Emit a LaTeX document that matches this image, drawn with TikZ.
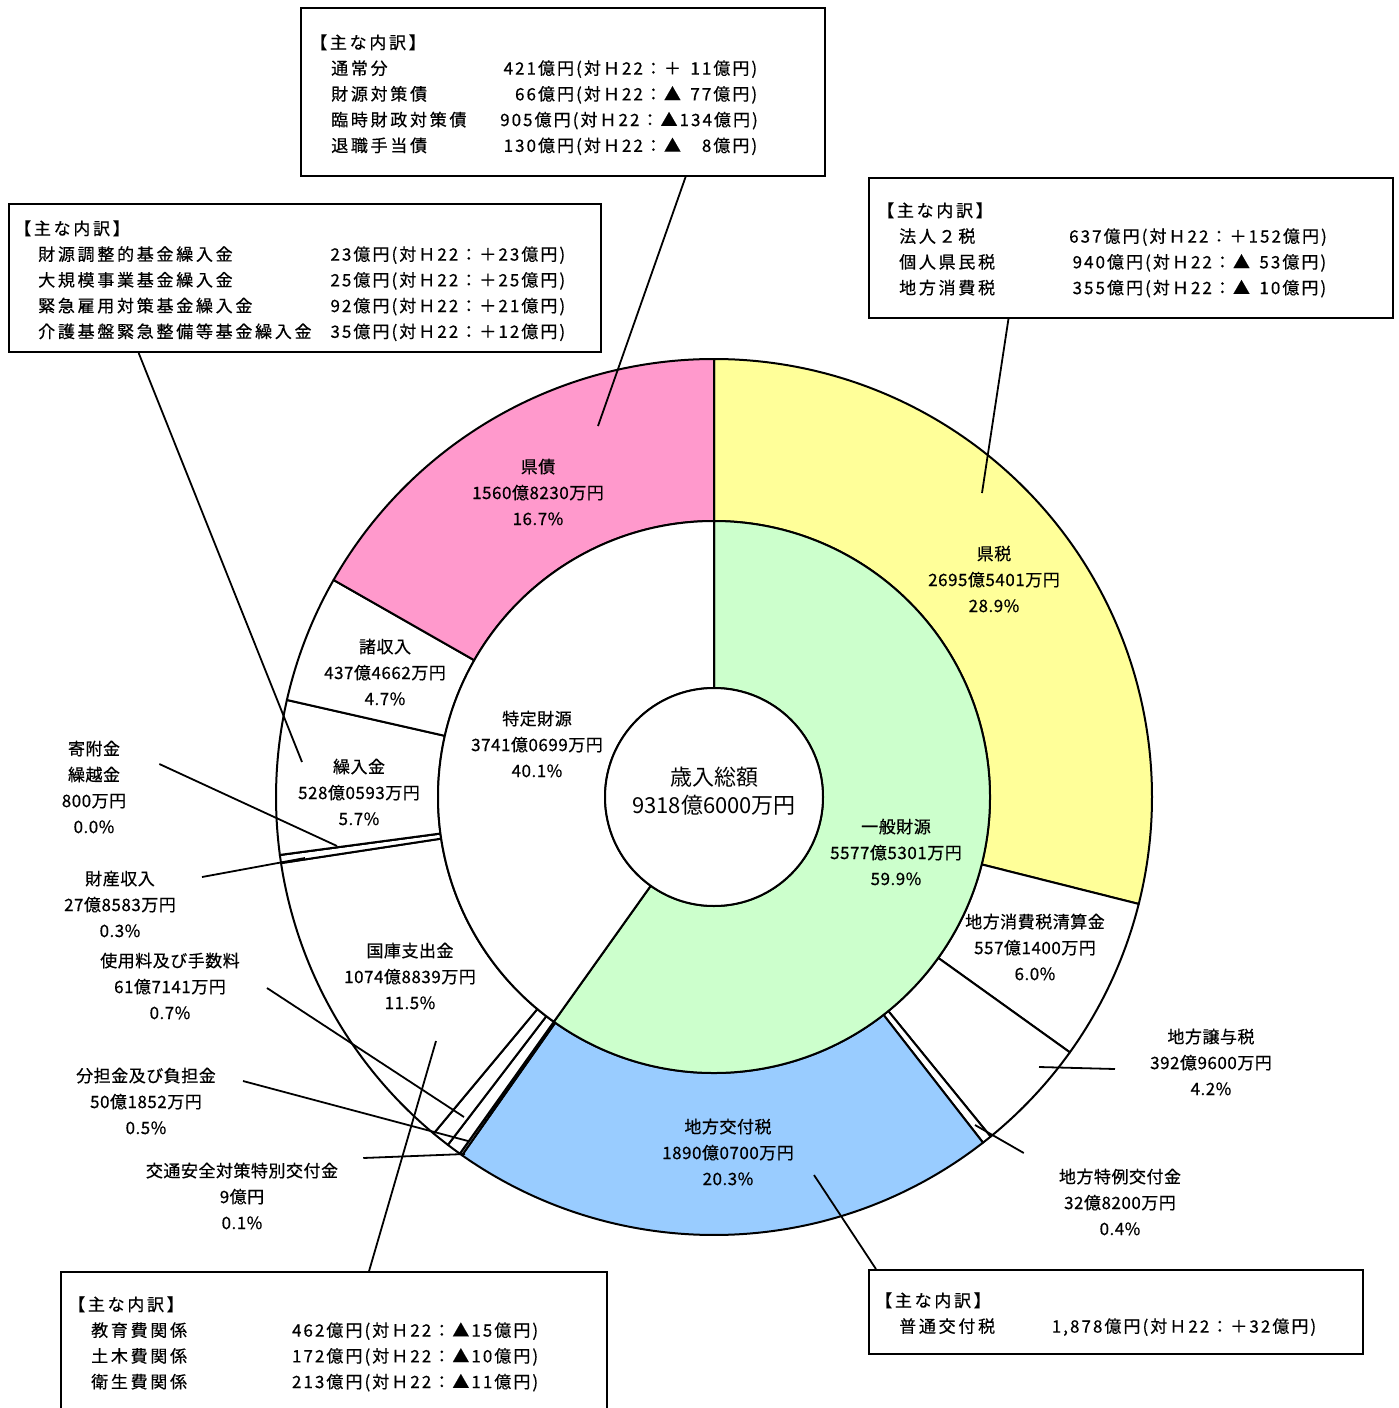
\documentclass[tikz,border=0pt]{standalone}
\usepackage{fontspec}
\setmainfont{Noto Sans CJK JP}
\newfontfamily\labelfont[LetterSpace=3, FakeBold=0.5]{Noto Sans CJK JP}
\newfontfamily\boxfont[LetterSpace=16, FakeBold=0.5]{Noto Sans CJK JP}
\newfontfamily\valuefont[LetterSpace=12, FakeBold=0.5]{Noto Sans CJK JP}
\usepackage{array}
\usepackage{xcolor}
\usetikzlibrary{calc}

\definecolor{zeiyellow}{RGB}{255,255,153}
\definecolor{saipink}{RGB}{255,153,204}
\definecolor{kofublue}{RGB}{153,204,255}
\definecolor{ippangreen}{RGB}{204,255,204}

% ring piece: colour, inner radius, outer radius, start angle, end angle
\newcommand{\ringslice}[5]{\filldraw[slice, fill=#1] (#4:#2) arc[start angle=#4, end angle=#5, radius=#2]
  -- (#5:#3) arc[start angle=#5, end angle=#4, radius=#3] -- cycle;}

\begin{document}
\begin{tikzpicture}[x=1pt, y=-1pt]
        % Styles
        \tikzstyle{slice} = [draw=black, line width=2pt, line join=round]
        \tikzstyle{piece} = [font=\labelfont\fontsize{17}{26}\selectfont, align=center, inner sep=0pt]
        \tikzstyle{infobox} = [draw=black, line width=2pt, fill=white, anchor=north west, inner sep=0pt]
        \tikzstyle{boxtext} = [anchor=north west, inner sep=0pt, font=\fontsize{17}{25.75}\selectfont]
        \tikzstyle{leader} = [line width=1.8pt]

        \useasboundingbox[fill=white] (0,0) rectangle (1398,1408);

        % Slices
        \begin{scope}[shift={(714,797)}]
        \ringslice{zeiyellow}{276}{438}{-90}{14.135}
        \ringslice{white}{276}{438}{14.135}{35.659}
        \ringslice{white}{276}{438}{35.659}{50.840}
        \ringslice{white}{276}{438}{50.840}{52.108}
        \ringslice{kofublue}{276}{438}{52.108}{125.126}
        \ringslice{white}{276}{438}{125.126}{125.474}
        \ringslice{white}{276}{438}{125.474}{127.413}
        \ringslice{white}{276}{438}{127.413}{129.797}
        \ringslice{white}{276}{438}{129.797}{171.322}
        \ringslice{white}{276}{438}{171.322}{172.398}
        \ringslice{white}{276}{438}{172.398}{172.401}
        \ringslice{white}{276}{438}{172.401}{192.802}
        \ringslice{white}{276}{438}{192.802}{209.702}
        \ringslice{saipink}{276}{438}{209.702}{270}
        \ringslice{ippangreen}{109}{276}{-90}{125.474}
        \ringslice{white}{109}{276}{125.474}{270}
        \end{scope}

        % Nodes
        \node (total) [circle, draw, line width=2pt, fill=white, minimum size=218pt, inner sep=0pt] at (714,797) {};
        \node (totaltext) [font=\fontsize{22}{28}\selectfont, align=center] at ([yshift=6pt]total.center)
        {歳入総額\\9318億6000万円};

        \node (kenzei) [piece] at (994,579) {県税\\2695億5401万円\\28.9\%};
        \node (seisan) [piece] at (1035,947) {地方消費税清算金\\557億1400万円\\6.0\%};
        \node (joyo) [piece] at (1211,1062) {地方譲与税\\392億9600万円\\4.2\%};
        \node (tokurei) [piece] at (1120,1202) {地方特例交付金\\32億8200万円\\0.4\%};
        \node (kofu) [piece] at (728,1152) {地方交付税\\1890億0700万円\\20.3\%};
        \node (kotsu) [piece] at (242,1196) {交通安全対策特別交付金\\9億円\\0.1\%};
        \node (buntan) [piece] at (146,1101) {分担金及び負担金\\50億1852万円\\0.5\%};
        \node (shiyo) [piece] at (170,986) {使用料及び手数料\\61億7141万円\\0.7\%};
        \node (kokko) [piece] at (410,976) {国庫支出金\\1074億8839万円\\11.5\%};
        \node (zaisan) [piece] at (120,904) {財産収入\\27億8583万円\\0.3\%};
        \node (kifu) [piece] at (94,787) {寄附金\\繰越金\\800万円\\0.0\%};
        \node (kuriire) [piece] at (359,792) {繰入金\\528億0593万円\\5.7\%};
        \node (shoshu) [piece] at (385,672) {諸収入\\437億4662万円\\4.7\%};
        \node (kensai) [piece] at (538,492) {県債\\1560億8230万円\\16.7\%};
        \node (tokutei) [piece] at (537,744) {特定財源\\3741億0699万円\\40.1\%};
        \node (ippan) [piece] at (896,852) {一般財源\\5577億5301万円\\59.9\%};

        % Boxes
        \node (kensaibox) [infobox, minimum width=524pt, minimum height=168pt] at (300,7) {};
        \node (kensaitext) [boxtext] at ([shift={(10,23.6)}]kensaibox.north west)
        {\begin{tabular}{@{}>{\boxfont\hspace*{21pt}}p{190pt}@{}>{\valuefont\raggedleft\arraybackslash}p{257pt}@{}}
        \multicolumn{2}{@{}l@{}}{\boxfont 【主な内訳】}\\
        通常分 & 421億円(対Ｈ22：＋\hphantom{0}11億円)\\
        財源対策債 & 66億円(対Ｈ22：▲\hphantom{0}77億円)\\
        臨時財政対策債 & 905億円(対Ｈ22：▲134億円)\\
        退職手当債 & 130億円(対Ｈ22：▲\hphantom{00}8億円)
        \end{tabular}};
        \node (kuriirebox) [infobox, minimum width=592pt, minimum height=148pt] at (8,203) {};
        \node (kuriiretext) [boxtext] at ([shift={(6,13.6)}]kuriirebox.north west)
        {\begin{tabular}{@{}>{\boxfont\hspace*{24pt}}p{316pt}@{}>{\valuefont\raggedleft\arraybackslash}p{235pt}@{}}
        \multicolumn{2}{@{}l@{}}{\boxfont 【主な内訳】}\\
        財源調整的基金繰入金 & 23億円(対Ｈ22：＋23億円)\\
        大規模事業基金繰入金 & 25億円(対Ｈ22：＋25億円)\\
        緊急雇用対策基金繰入金 & 92億円(対Ｈ22：＋21億円)\\
        介護基盤緊急整備等基金繰入金 & 35億円(対Ｈ22：＋12億円)
        \end{tabular}};
        \node (kenzeibox) [infobox, minimum width=524pt, minimum height=140pt] at (868,177) {};
        \node (kenzeitext) [boxtext] at ([shift={(9,21.6)}]kenzeibox.north west)
        {\begin{tabular}{@{}>{\boxfont\hspace*{22pt}}p{192pt}@{}>{\valuefont\raggedleft\arraybackslash}p{257pt}@{}}
        \multicolumn{2}{@{}l@{}}{\boxfont 【主な内訳】}\\
        法人２税 & 637億円(対Ｈ22：＋152億円)\\
        個人県民税 & 940億円(対Ｈ22：▲\hphantom{0}53億円)\\
        地方消費税 & 355億円(対Ｈ22：▲\hphantom{0}10億円)
        \end{tabular}};
        \node (kokkobox) [infobox, minimum width=546pt, minimum height=144pt] at (60,1271) {};
        \node (kokkotext) [boxtext] at ([shift={(8,21.6)}]kokkobox.north west)
        {\begin{tabular}{@{}>{\boxfont\hspace*{23pt}}p{223pt}@{}>{\valuefont\raggedleft\arraybackslash}p{247pt}@{}}
        \multicolumn{2}{@{}l@{}}{\boxfont 【主な内訳】}\\
        教育費関係 & 462億円(対Ｈ22：▲15億円)\\
        土木費関係 & 172億円(対Ｈ22：▲10億円)\\
        衛生費関係 & 213億円(対Ｈ22：▲11億円)
        \end{tabular}};
        \node (kofubox) [infobox, minimum width=494pt, minimum height=84pt] at (868,1269) {};
        \node (kofutext) [boxtext] at ([shift={(7,19.6)}]kofubox.north west)
        {\begin{tabular}{@{}>{\boxfont\hspace*{24pt}}p{174pt}@{}>{\valuefont\raggedleft\arraybackslash}p{267pt}@{}}
        \multicolumn{2}{@{}l@{}}{\boxfont 【主な内訳】}\\
        普通交付税 & 1,878億円(対Ｈ22：＋32億円)
        \end{tabular}};

        % Lines
        \coordinate (kensaiend) at (598,426);
        \coordinate (kuriireend) at (302,762);
        \coordinate (kenzeiend) at (982,493);
        \coordinate (kokkoend) at (436,1041);
        \coordinate (kofuend) at (814,1175);
        \coordinate (kifuend) at (337,846);
        \coordinate (zaisanend) at (305,858);
        \coordinate (shiyoend) at (464,1117);
        \coordinate (buntanend) at (468,1141);
        \coordinate (kotsuend) at (465,1154);
        \coordinate (joyoend) at (1039,1067);
        \coordinate (tokureiend) at (975,1125);

        \draw[leader] ($(kensaibox.south west)!0.733!(kensaibox.south east)$) -- (kensaiend);
        \draw[leader] ($(kuriirebox.south west)!0.22!(kuriirebox.south east)$) -- (kuriireend);
        \draw[leader] ($(kenzeibox.south west)!0.267!(kenzeibox.south east)$) -- (kenzeiend);
        \draw[leader] ($(kokkobox.north west)!0.564!(kokkobox.north east)$) -- (kokkoend);
        \draw[leader] ($(kofubox.north west)!0.016!(kofubox.north east)$) -- (kofuend);
        \draw[leader] ([shift={(33,-23)}]kifu.east) -- (kifuend);
        \draw[leader] ([shift={(26,-27)}]zaisan.east) -- (zaisanend);
        \draw[leader] ([shift={(27,2)}]shiyo.east) -- (shiyoend);
        \draw[leader] ([shift={(27,-20)}]buntan.east) -- (buntanend);
        \draw[leader] ([shift={(25,-38)}]kotsu.east) -- (kotsuend);
        \draw[leader] ([shift={(-35,7)}]joyo.west) -- (joyoend);
        \draw[leader] ([shift={(-35,-49)}]tokurei.west) -- (tokureiend);
\end{tikzpicture}
\end{document}
